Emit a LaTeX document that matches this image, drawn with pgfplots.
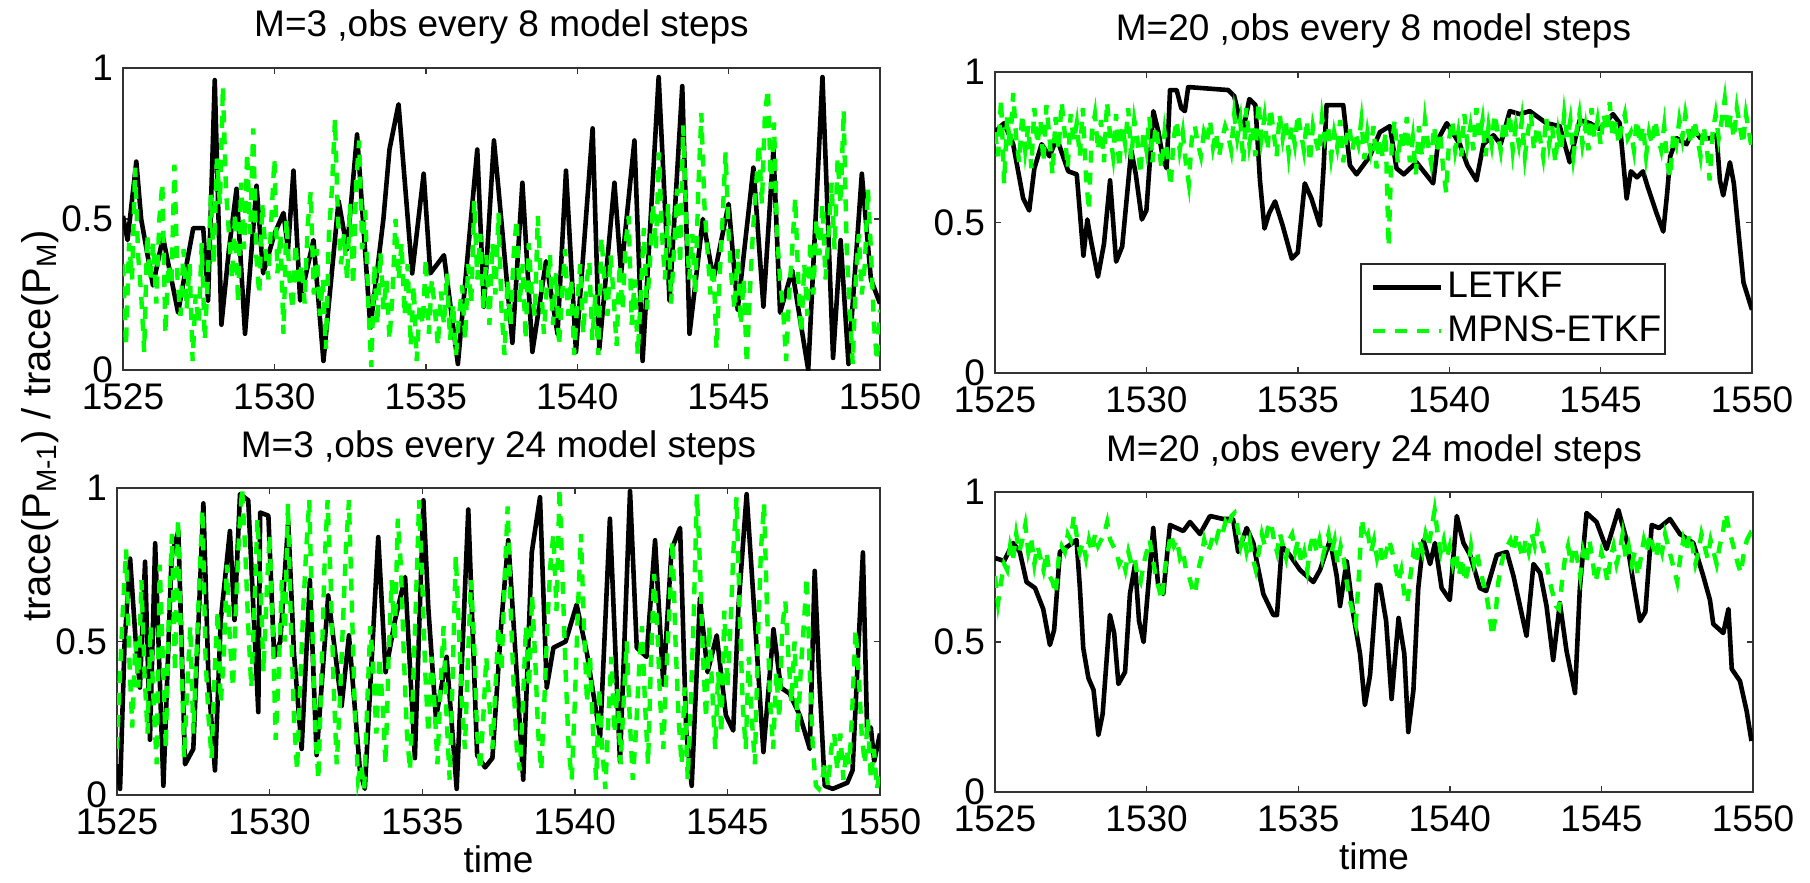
\documentclass[border=0pt]{standalone}
\usepackage{pgfplots}
\pgfplotsset{compat=1.18}
\usepackage{pgfplotstable}
\usepackage{fontspec}
\setmainfont{Liberation Sans}
\definecolor{mgreen}{RGB}{0,255,0}

% green (MPNS-ETKF) series, sampled every 0.1 time units from 1525 to 1550
\pgfplotstableread[row sep=\\]{y\\
0.35\\0.08\\0.42\\0.30\\0.67\\0.38\\0.25\\0.06\\0.45\\0.30\\
0.42\\0.22\\0.50\\0.62\\0.12\\0.35\\0.28\\0.68\\0.30\\0.18\\
0.40\\0.20\\0.35\\0.03\\0.25\\0.15\\0.42\\0.10\\0.30\\0.58\\
0.35\\0.70\\0.55\\0.94\\0.60\\0.45\\0.30\\0.52\\0.22\\0.62\\
0.40\\0.72\\0.45\\0.80\\0.38\\0.25\\0.55\\0.40\\0.30\\0.50\\
0.70\\0.32\\0.45\\0.12\\0.50\\0.30\\0.20\\0.42\\0.28\\0.35\\
0.22\\0.48\\0.59\\0.25\\0.40\\0.18\\0.30\\0.07\\0.45\\0.60\\
0.83\\0.50\\0.35\\0.45\\0.30\\0.55\\0.28\\0.62\\0.76\\0.40\\
0.53\\0.22\\0.01\\0.35\\0.15\\0.39\\0.20\\0.30\\0.10\\0.25\\
0.50\\0.30\\0.42\\0.18\\0.35\\0.08\\0.28\\0.03\\0.22\\0.15\\
0.37\\0.12\\0.30\\0.20\\0.08\\0.26\\0.15\\0.32\\0.10\\0.22\\
0.05\\0.18\\0.28\\0.10\\0.35\\0.22\\0.56\\0.30\\0.45\\0.20\\
0.38\\0.15\\0.42\\0.25\\0.52\\0.20\\0.05\\0.30\\0.15\\0.38\\
0.50\\0.22\\0.35\\0.10\\0.42\\0.25\\0.18\\0.51\\0.30\\0.12\\
0.28\\0.38\\0.15\\0.32\\0.08\\0.25\\0.40\\0.18\\0.30\\0.05\\
0.22\\0.35\\0.12\\0.28\\0.36\\0.10\\0.25\\0.05\\0.44\\0.30\\
0.18\\0.38\\0.25\\0.08\\0.35\\0.20\\0.42\\0.51\\0.15\\0.30\\
0.05\\0.25\\0.47\\0.20\\0.35\\0.55\\0.40\\0.72\\0.45\\0.30\\
0.55\\0.22\\0.40\\0.60\\0.35\\0.81\\0.50\\0.30\\0.45\\0.25\\
0.60\\0.85\\0.55\\0.40\\0.25\\0.35\\0.07\\0.30\\0.50\\0.72\\
0.45\\0.30\\0.20\\0.40\\0.15\\0.30\\0.02\\0.25\\0.45\\0.60\\
0.75\\0.55\\0.85\\0.93\\0.60\\0.82\\0.45\\0.30\\0.20\\0.03\\
0.25\\0.40\\0.57\\0.30\\0.12\\0.35\\0.18\\0.43\\0.25\\0.50\\
0.38\\0.55\\0.30\\0.45\\0.62\\0.40\\0.70\\0.55\\0.86\\0.40\\
0.20\\0.02\\0.30\\0.45\\0.25\\0.35\\0.60\\0.40\\0.15\\0.03\\
0.20\\}\tlg

\pgfplotstableread[row sep=\\]{y\\
0.80\\0.72\\0.91\\0.63\\0.85\\0.75\\0.93\\0.78\\0.70\\0.86\\
0.74\\0.82\\0.68\\0.88\\0.76\\0.84\\0.70\\0.89\\0.78\\0.66\\
0.85\\0.74\\0.90\\0.80\\0.68\\0.86\\0.77\\0.83\\0.72\\0.88\\
0.66\\0.54\\0.80\\0.86\\0.74\\0.84\\0.70\\0.90\\0.79\\0.72\\
0.86\\0.68\\0.82\\0.76\\0.88\\0.71\\0.84\\0.78\\0.66\\0.80\\
0.74\\0.85\\0.70\\0.82\\0.76\\0.68\\0.80\\0.72\\0.62\\0.78\\
0.84\\0.74\\0.80\\0.70\\0.63\\0.78\\0.82\\0.76\\0.72\\0.80\\
0.77\\0.84\\0.75\\0.80\\0.72\\0.78\\0.82\\0.79\\0.74\\0.86\\
0.78\\0.84\\0.70\\0.88\\0.76\\0.82\\0.72\\0.90\\0.78\\0.85\\
0.74\\0.88\\0.80\\0.72\\0.86\\0.78\\0.84\\0.73\\0.82\\0.76\\
0.86\\0.80\\0.74\\0.84\\0.70\\0.82\\0.77\\0.73\\0.85\\0.78\\
0.82\\0.72\\0.80\\0.75\\0.84\\0.70\\0.78\\0.82\\0.74\\0.80\\
0.76\\0.84\\0.71\\0.80\\0.74\\0.82\\0.68\\0.78\\0.72\\0.80\\
0.42\\0.75\\0.84\\0.70\\0.80\\0.74\\0.85\\0.70\\0.78\\0.66\\
0.82\\0.72\\0.84\\0.76\\0.70\\0.82\\0.74\\0.80\\0.68\\0.60\\
0.78\\0.84\\0.74\\0.80\\0.72\\0.86\\0.76\\0.82\\0.74\\0.88\\
0.78\\0.84\\0.72\\0.82\\0.76\\0.86\\0.80\\0.74\\0.84\\0.78\\
0.86\\0.74\\0.82\\0.76\\0.84\\0.72\\0.80\\0.86\\0.74\\0.82\\
0.78\\0.72\\0.85\\0.76\\0.82\\0.70\\0.80\\0.74\\0.86\\0.78\\
0.84\\0.72\\0.80\\0.86\\0.76\\0.82\\0.74\\0.88\\0.78\\0.84\\
0.76\\0.86\\0.80\\0.90\\0.78\\0.84\\0.76\\0.82\\0.86\\0.78\\
0.80\\0.74\\0.84\\0.76\\0.82\\0.72\\0.80\\0.76\\0.84\\0.78\\
0.74\\0.82\\0.70\\0.65\\0.80\\0.76\\0.84\\0.78\\0.86\\0.80\\
0.76\\0.84\\0.78\\0.72\\0.82\\0.76\\0.64\\0.80\\0.86\\0.78\\
0.84\\0.91\\0.80\\0.86\\0.78\\0.88\\0.82\\0.76\\0.86\\0.80\\
0.74\\}\trg

\pgfplotstableread[row sep=\\]{y\\
0.15\\0.40\\0.62\\0.80\\0.45\\0.22\\0.50\\0.35\\0.70\\0.40\\
0.20\\0.55\\0.30\\0.10\\0.75\\0.45\\0.15\\0.60\\0.85\\0.40\\
0.90\\0.50\\0.12\\0.35\\0.55\\0.20\\0.45\\0.70\\0.93\\0.45\\
0.25\\0.12\\0.40\\0.60\\0.30\\0.45\\0.75\\0.50\\0.35\\0.62\\
0.85\\1.00\\0.80\\0.55\\0.35\\0.60\\0.90\\0.70\\0.40\\0.65\\
0.85\\0.55\\0.18\\0.40\\0.70\\0.50\\0.95\\0.55\\0.25\\0.08\\
0.35\\0.60\\0.80\\0.96\\0.55\\0.20\\0.05\\0.40\\0.75\\0.96\\
0.70\\0.35\\0.10\\0.30\\0.55\\0.80\\0.96\\0.60\\0.25\\0.05\\
0.10\\0.02\\0.30\\0.55\\0.40\\0.20\\0.45\\0.30\\0.10\\0.45\\
0.70\\0.50\\0.90\\0.75\\0.45\\0.20\\0.08\\0.35\\0.65\\0.96\\
0.70\\0.40\\0.20\\0.45\\0.30\\0.10\\0.35\\0.55\\0.25\\0.05\\
0.40\\0.78\\0.55\\0.30\\0.15\\0.45\\0.70\\0.50\\0.20\\0.08\\
0.25\\0.45\\0.30\\0.15\\0.35\\0.55\\0.40\\0.70\\0.94\\0.60\\
0.35\\0.15\\0.08\\0.30\\0.55\\0.35\\0.65\\0.45\\0.20\\0.08\\
0.30\\0.55\\0.75\\0.85\\0.60\\1.00\\0.70\\0.40\\0.15\\0.05\\
0.30\\0.60\\0.85\\0.55\\0.30\\0.45\\0.20\\0.05\\0.35\\0.15\\
0.02\\0.25\\0.45\\0.20\\0.35\\0.10\\0.30\\0.50\\0.25\\0.05\\
0.20\\0.40\\0.55\\0.30\\0.10\\0.45\\0.72\\0.55\\0.30\\0.15\\
0.40\\0.60\\0.83\\0.50\\0.25\\0.10\\0.35\\0.05\\0.30\\0.60\\
0.98\\0.75\\0.45\\0.25\\0.55\\0.35\\0.15\\0.40\\0.20\\0.60\\
0.35\\0.55\\0.80\\0.97\\0.60\\0.30\\0.15\\0.45\\0.25\\0.10\\
0.50\\0.80\\0.95\\0.60\\0.30\\0.15\\0.40\\0.25\\0.55\\0.63\\
0.45\\0.30\\0.50\\0.20\\0.40\\0.55\\0.71\\0.40\\0.15\\0.03\\
0.02\\0.05\\0.10\\0.03\\0.15\\0.20\\0.08\\0.20\\0.05\\0.15\\
0.10\\0.30\\0.54\\0.40\\0.20\\0.10\\0.25\\0.05\\0.15\\0.02\\
0.08\\}\blg

\pgfplotstableread[row sep=\\]{y\\
0.72\\0.63\\0.70\\0.76\\0.74\\0.82\\0.78\\0.86\\0.80\\0.84\\
0.89\\0.80\\0.84\\0.76\\0.82\\0.78\\0.74\\0.80\\0.72\\0.70\\
0.66\\0.78\\0.82\\0.80\\0.86\\0.84\\0.92\\0.85\\0.80\\0.83\\
0.78\\0.84\\0.80\\0.86\\0.82\\0.84\\0.86\\0.90\\0.84\\0.82\\
0.80\\0.76\\0.78\\0.74\\0.80\\0.76\\0.78\\0.72\\0.70\\0.76\\
0.80\\0.84\\0.78\\0.72\\0.68\\0.64\\0.74\\0.80\\0.86\\0.82\\
0.84\\0.78\\0.80\\0.74\\0.72\\0.68\\0.66\\0.74\\0.78\\0.84\\
0.80\\0.82\\0.86\\0.84\\0.88\\0.86\\0.90\\0.88\\0.92\\0.93\\
0.88\\0.82\\0.86\\0.80\\0.84\\0.78\\0.74\\0.80\\0.86\\0.82\\
0.88\\0.90\\0.84\\0.80\\0.86\\0.82\\0.78\\0.84\\0.86\\0.80\\
0.84\\0.76\\0.80\\0.74\\0.82\\0.86\\0.80\\0.84\\0.78\\0.82\\
0.86\\0.80\\0.84\\0.76\\0.82\\0.78\\0.70\\0.64\\0.60\\0.56\\
0.72\\0.91\\0.84\\0.86\\0.80\\0.84\\0.78\\0.82\\0.76\\0.80\\
0.84\\0.80\\0.76\\0.70\\0.74\\0.66\\0.63\\0.72\\0.80\\0.76\\
0.84\\0.80\\0.86\\0.82\\0.88\\0.94\\0.86\\0.80\\0.84\\0.78\\
0.82\\0.76\\0.80\\0.72\\0.78\\0.70\\0.74\\0.82\\0.76\\0.80\\
0.74\\0.70\\0.66\\0.60\\0.52\\0.58\\0.70\\0.76\\0.80\\0.82\\
0.84\\0.80\\0.86\\0.82\\0.78\\0.84\\0.80\\0.86\\0.82\\0.88\\
0.84\\0.80\\0.76\\0.70\\0.66\\0.62\\0.61\\0.70\\0.78\\0.82\\
0.76\\0.82\\0.78\\0.72\\0.80\\0.76\\0.84\\0.78\\0.70\\0.74\\
0.80\\0.76\\0.70\\0.78\\0.82\\0.76\\0.80\\0.86\\0.78\\0.82\\
0.76\\0.80\\0.72\\0.78\\0.84\\0.80\\0.86\\0.82\\0.78\\0.84\\
0.80\\0.86\\0.82\\0.78\\0.74\\0.70\\0.78\\0.84\\0.80\\0.86\\
0.82\\0.76\\0.80\\0.86\\0.82\\0.78\\0.84\\0.80\\0.76\\0.82\\
0.86\\0.93\\0.88\\0.84\\0.80\\0.76\\0.73\\0.80\\0.84\\0.86\\
0.84\\}\brg

\pgfplotsset{
  panel/.style={
    scale only axis,
    xmin=1525, xmax=1550, ymin=0, ymax=1,
    xtick={1525,1530,1535,1540,1545,1550},
    ytick={0,0.5,1},
    tick align=inside,
    major tick length=3pt,
    axis line style={black!80, line width=0.9pt},
    tick style={black!80, line width=0.7pt},
    font=\fontsize{18.5}{22}\selectfont,
    /pgf/number format/assume math mode=true,
    /pgf/number format/1000 sep={},
    xticklabel style={anchor=base, yshift=-19.5pt},
    yticklabel style={anchor=east, xshift=-1.5pt},
    title style={at={(0.5,1)}, anchor=base, yshift=9.5pt},
    xlabel style={at={(axis description cs:0.5,0)}, anchor=base, yshift=-38.5pt},
  },
  letkf/.style={black, line width=2.3pt, mark=none, line join=round},
  mpns/.style={mgreen, line width=2.2pt, dash pattern=on 6pt off 5pt, mark=none},
}

\begin{document}
\begin{tikzpicture}
\useasboundingbox (0pt,0pt) rectangle (905pt,-441.5pt);

% ---------- top left ----------
\begin{axis}[panel, at={(61.5pt,-34pt)}, anchor=north west,
  width=378.5pt, height=151pt,
  title={M=3 ,obs every 8 model steps}]
\addplot[letkf] coordinates {
(1525.0,0.51)(1525.15,0.43)(1525.44,0.69)(1525.6,0.5)(1525.99,0.28)(1526.32,0.44)(1526.5,0.35)(1526.82,0.19)(1527.1,0.35)(1527.32,0.47)(1527.65,0.47)(1527.81,0.23)(1528.03,0.96)(1528.25,0.15)(1528.5,0.4)(1528.75,0.60)(1529.03,0.12)(1529.41,0.61)(1529.63,0.32)(1530.0,0.45)(1530.3,0.52)(1530.45,0.4)(1530.63,0.66)(1530.85,0.23)(1531.29,0.43)(1531.62,0.03)(1532.12,0.56)(1532.4,0.4)(1532.73,0.78)(1533.17,0.14)(1533.6,0.5)(1533.8,0.73)(1534.1,0.88)(1534.55,0.32)(1534.93,0.65)(1535.15,0.32)(1535.6,0.38)(1536.06,0.02)(1536.4,0.4)(1536.7,0.73)(1536.92,0.21)(1537.25,0.76)(1537.4,0.6)(1537.86,0.09)(1538.19,0.62)(1538.52,0.06)(1538.97,0.36)(1539.35,0.12)(1539.63,0.66)(1539.96,0.06)(1540.51,0.80)(1540.73,0.07)(1541.23,0.62)(1541.45,0.32)(1541.89,0.76)(1542.16,0.03)(1542.69,0.97)(1543.05,0.23)(1543.47,0.94)(1543.71,0.12)(1544.15,0.5)(1544.5,0.3)(1545.0,0.55)(1545.3,0.2)(1545.82,0.67)(1546.15,0.21)(1546.48,0.73)(1546.7,0.19)(1547.1,0.33)(1547.63,0.0)(1548.1,0.97)(1548.45,0.04)(1548.7,0.43)(1548.96,0.02)(1549.4,0.65)(1549.7,0.3)(1550.0,0.22)
};
\addplot[mpns] table[x expr={1525+0.1*\coordindex}, y=y] {\tlg};
\end{axis}

% ---------- top right ----------
\begin{axis}[panel, at={(497.5pt,-36pt)}, anchor=north west,
  width=378.5pt, height=150.5pt,
  title={M=20 ,obs every 8 model steps},
  legend style={at={(0.8864,0.0598)}, anchor=south east, draw=black!85,
    line width=0.8pt, fill=white, inner xsep=0pt, inner ysep=0.5pt,
    nodes={inner xsep=2pt, inner ysep=2.5pt, text height=13.5pt, text depth=3.5pt},
    font=\fontsize{18.5}{22}\selectfont},
  legend cell align=left,
  legend image code/.code={\path (0pt,0pt); \draw[#1] (5pt,0pt) -- (39pt,0pt);}]
\addplot[letkf] coordinates {
(1525.0,0.80)(1525.3,0.83)(1525.6,0.76)(1525.93,0.58)(1526.13,0.54)(1526.3,0.68)(1526.54,0.76)(1526.8,0.72)(1527.04,0.78)(1527.42,0.67)(1527.7,0.66)(1527.92,0.39)(1528.05,0.51)(1528.15,0.45)(1528.4,0.32)(1528.6,0.43)(1528.8,0.64)(1529.0,0.37)(1529.2,0.42)(1529.5,0.74)(1529.65,0.66)(1529.85,0.51)(1530.0,0.54)(1530.23,0.87)(1530.4,0.80)(1530.55,0.71)(1530.67,0.68)(1530.78,0.94)(1531.0,0.94)(1531.15,0.88)(1531.27,0.87)(1531.38,0.95)(1532.7,0.94)(1532.9,0.92)(1533.09,0.84)(1533.2,0.81)(1533.4,0.91)(1533.6,0.89)(1533.75,0.64)(1533.9,0.48)(1534.05,0.53)(1534.25,0.57)(1534.5,0.49)(1534.8,0.38)(1535.0,0.40)(1535.23,0.63)(1535.45,0.58)(1535.73,0.49)(1535.85,0.68)(1535.95,0.89)(1536.5,0.89)(1536.72,0.69)(1536.94,0.66)(1537.38,0.72)(1537.71,0.80)(1538.04,0.82)(1538.26,0.68)(1538.5,0.66)(1538.92,0.70)(1539.47,0.63)(1539.65,0.78)(1539.92,0.83)(1540.35,0.76)(1540.6,0.69)(1540.9,0.64)(1541.13,0.76)(1541.46,0.79)(1541.7,0.76)(1542.0,0.87)(1542.33,0.86)(1542.66,0.87)(1543.21,0.83)(1543.65,0.82)(1543.98,0.70)(1544.31,0.84)(1544.65,0.83)(1544.97,0.81)(1545.41,0.86)(1545.63,0.83)(1545.86,0.58)(1546.0,0.67)(1546.2,0.65)(1546.4,0.67)(1546.55,0.62)(1546.85,0.53)(1547.07,0.47)(1547.2,0.6)(1547.3,0.72)(1547.51,0.78)(1547.84,0.76)(1548.06,0.81)(1548.3,0.78)(1548.6,0.78)(1548.83,0.79)(1548.94,0.64)(1549.05,0.59)(1549.27,0.70)(1549.4,0.63)(1549.6,0.42)(1549.72,0.30)(1550.0,0.21)
};
\addlegendentry{LETKF}
\addplot[mpns] table[x expr={1525+0.1*\coordindex}, y=y] {\trg};
\addlegendentry{MPNS-ETKF}
\end{axis}

% ---------- bottom left ----------
\begin{axis}[panel, at={(58.5pt,-244pt)}, anchor=north west,
  width=381.5pt, height=153.5pt,
  title={M=3 ,obs every 24 model steps}, xlabel={time}]
\addplot[letkf] coordinates {
(1525.0,0.10)(1525.1,0.02)(1525.25,0.5)(1525.43,0.77)(1525.6,0.52)(1525.75,0.35)(1525.92,0.76)(1526.08,0.18)(1526.25,0.82)(1526.52,0.03)(1526.79,0.78)(1527.01,0.86)(1527.23,0.10)(1527.5,0.15)(1527.83,0.95)(1528.0,0.37)(1528.21,0.08)(1528.4,0.57)(1528.7,0.86)(1528.85,0.57)(1529.03,0.98)(1529.3,0.96)(1529.63,0.27)(1529.69,0.92)(1529.96,0.91)(1530.15,0.45)(1530.35,0.5)(1530.61,0.89)(1530.8,0.46)(1531.05,0.15)(1531.32,0.70)(1531.54,0.13)(1531.92,0.65)(1532.36,0.29)(1532.6,0.52)(1532.96,0.08)(1533.12,0.02)(1533.56,0.84)(1533.8,0.40)(1534.11,0.57)(1534.44,0.71)(1534.76,0.12)(1535.04,0.96)(1535.2,0.61)(1535.45,0.25)(1535.8,0.45)(1536.13,0.02)(1536.51,0.93)(1536.8,0.13)(1537.06,0.09)(1537.3,0.12)(1537.6,0.57)(1537.82,0.83)(1538.0,0.55)(1538.31,0.05)(1538.59,0.79)(1538.86,0.97)(1539.08,0.35)(1539.3,0.48)(1539.7,0.50)(1540.06,0.62)(1540.4,0.46)(1540.83,0.19)(1541.15,0.90)(1541.48,0.11)(1541.81,0.99)(1542.03,0.48)(1542.35,0.45)(1542.63,0.83)(1542.9,0.36)(1543.17,0.80)(1543.45,0.87)(1543.65,0.21)(1543.83,0.03)(1544.1,0.64)(1544.35,0.40)(1544.65,0.52)(1544.95,0.26)(1545.19,0.21)(1545.36,0.61)(1545.63,0.98)(1545.9,0.57)(1546.18,0.14)(1546.51,0.54)(1546.75,0.35)(1547.04,0.33)(1547.37,0.26)(1547.7,0.15)(1547.86,0.73)(1548.0,0.40)(1548.19,0.03)(1548.45,0.02)(1548.93,0.04)(1549.1,0.08)(1549.44,0.79)(1549.58,0.2)(1549.7,0.22)(1549.81,0.11)(1550.0,0.20)
};
\addplot[mpns] table[x expr={1525+0.1*\coordindex}, y=y] {\blg};
\end{axis}

% ---------- bottom right ----------
\begin{axis}[panel, at={(497.5pt,-246pt)}, anchor=north west,
  width=379pt, height=150pt,
  title={M=20 ,obs every 24 model steps}, xlabel={time}]
\addplot[letkf] coordinates {
(1525.0,0.78)(1525.3,0.77)(1525.6,0.83)(1525.82,0.80)(1526.04,0.70)(1526.32,0.68)(1526.59,0.61)(1526.81,0.49)(1526.95,0.54)(1527.14,0.80)(1527.42,0.82)(1527.69,0.84)(1527.8,0.68)(1527.91,0.48)(1528.08,0.38)(1528.25,0.34)(1528.41,0.19)(1528.55,0.26)(1528.79,0.59)(1528.93,0.53)(1529.07,0.36)(1529.29,0.40)(1529.45,0.66)(1529.62,0.76)(1529.75,0.57)(1529.9,0.50)(1530.05,0.68)(1530.22,0.88)(1530.38,0.69)(1530.55,0.66)(1530.77,0.89)(1531.21,0.87)(1531.43,0.90)(1531.76,0.86)(1532.09,0.92)(1532.53,0.91)(1532.85,0.91)(1533.02,0.80)(1533.3,0.88)(1533.52,0.83)(1533.63,0.77)(1533.85,0.66)(1534.18,0.59)(1534.3,0.59)(1534.46,0.82)(1534.72,0.79)(1535.06,0.74)(1535.5,0.70)(1535.72,0.74)(1536.05,0.84)(1536.27,0.72)(1536.38,0.62)(1536.6,0.77)(1536.82,0.59)(1537.04,0.46)(1537.2,0.29)(1537.37,0.39)(1537.59,0.69)(1537.7,0.69)(1537.9,0.57)(1538.08,0.31)(1538.31,0.58)(1538.5,0.46)(1538.63,0.20)(1538.8,0.34)(1538.96,0.68)(1539.13,0.84)(1539.35,0.76)(1539.51,0.83)(1539.73,0.68)(1540.0,0.64)(1540.23,0.92)(1540.45,0.83)(1540.67,0.79)(1540.99,0.68)(1541.2,0.67)(1541.55,0.79)(1541.88,0.80)(1542.1,0.72)(1542.53,0.52)(1542.76,0.76)(1542.98,0.73)(1543.19,0.62)(1543.41,0.44)(1543.63,0.63)(1543.85,0.47)(1544.13,0.33)(1544.29,0.68)(1544.51,0.93)(1544.84,0.90)(1545.17,0.81)(1545.56,0.94)(1545.83,0.84)(1546.05,0.70)(1546.27,0.57)(1546.45,0.60)(1546.66,0.89)(1546.9,0.88)(1547.26,0.91)(1547.59,0.86)(1548.03,0.83)(1548.36,0.72)(1548.58,0.64)(1548.69,0.56)(1549.02,0.53)(1549.19,0.61)(1549.3,0.41)(1549.57,0.37)(1549.79,0.27)(1549.95,0.17)
};
\addplot[mpns] table[x expr={1525+0.1*\coordindex}, y=y] {\brg};
\end{axis}

% shared y label
\node[rotate=90, anchor=base, font=\fontsize{20}{24}\selectfont] at (25pt,-213pt)
  {trace(P\textsubscript{M-1}) / trace(P\textsubscript{M})};
\end{tikzpicture}
\end{document}
